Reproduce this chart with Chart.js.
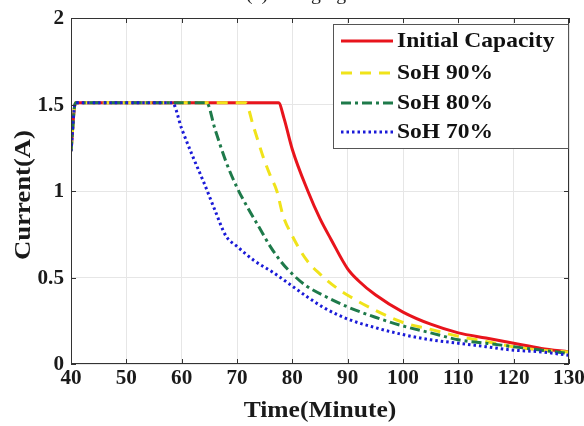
<!DOCTYPE html>
<html><head><meta charset="utf-8">
<script src="https://cdn.jsdelivr.net/npm/chart.js@4/dist/chart.umd.min.js"></script>
<style>html,body{margin:0;padding:0;background:#fff;overflow:hidden}#wrap{position:relative;width:584px;height:426px}</style>
</head><body><div id="wrap"><canvas id="c" width="584" height="426"></canvas></div>
<script>
const chartTitle = "(a) Charging current";
const xTitle = "Time(Minute)";
const yTitle = "Current(A)";
const seriesLabels = ["Initial Capacity", "SoH 90%", "SoH 80%", "SoH 70%"];
const xTicks = [40, 50, 60, 70, 80, 90, 100, 110, 120, 130];
const yTicks = [0, 0.5, 1, 1.5, 2];
const yTickLabels = ["0", "0.5", "1", "1.5", "2"];

const timeInitial = [40, 40.8, 77.5, 78.5, 80, 82.8, 85, 87, 90, 92, 95, 100, 105, 110, 115, 120, 125, 130];
const currentInitial = [1.23, 1.51, 1.51, 1.42, 1.24, 1.0, 0.84, 0.72, 0.55, 0.48, 0.40, 0.30, 0.23, 0.18, 0.15, 0.12, 0.09, 0.07];

const time90 = [40, 40.8, 71.5, 73, 74.7, 76, 77.2, 78.3, 80, 82.6, 85, 88, 90.4, 95, 100, 105, 110, 115, 120, 125, 130];
const current90 = [1.23, 1.51, 1.51, 1.37, 1.2, 1.09, 1.0, 0.86, 0.74, 0.60, 0.52, 0.44, 0.39, 0.31, 0.24, 0.20, 0.16, 0.13, 0.10, 0.08, 0.07];

const time80 = [40, 40.8, 64.5, 66, 68, 70, 72, 74, 76, 78, 80, 82.6, 86, 90, 95, 100, 105, 110, 115, 120, 125, 130];
const current80 = [1.23, 1.51, 1.51, 1.36, 1.17, 1.02, 0.90, 0.79, 0.68, 0.59, 0.52, 0.45, 0.39, 0.33, 0.27, 0.22, 0.18, 0.14, 0.12, 0.10, 0.08, 0.06];

const time70 = [40, 40.8, 58.3, 60, 62, 64, 66, 68, 70, 73, 76.5, 80, 82.6, 86, 90, 95, 100, 105, 110, 115, 120, 125, 130];
const current70 = [1.23, 1.51, 1.51, 1.36, 1.20, 1.05, 0.89, 0.74, 0.68, 0.60, 0.53, 0.45, 0.39, 0.32, 0.26, 0.21, 0.17, 0.14, 0.12, 0.10, 0.08, 0.07, 0.05];

function pts(xs, ys) { return xs.map((x, i) => ({x: x, y: ys[i]})); }

const FONT = "'Liberation Serif','Times New Roman',serif";
const STRETCH = 1.11;

const styles = [
  {color: '#e8141c', dash: [], order: 4},
  {color: '#f0e31a', dash: [11, 8], order: 3},
  {color: '#1e7a4a', dash: [10, 4, 3, 4], order: 2},
  {color: '#1a1ad8', dash: [2.5, 3], order: 1}
];
const seriesData = [pts(timeInitial, currentInitial), pts(time90, current90), pts(time80, current80), pts(time70, current70)];

const datasets = seriesLabels.map((lab, i) => ({
  label: lab,
  data: seriesData[i],
  borderColor: styles[i].color,
  backgroundColor: styles[i].color,
  borderDash: styles[i].dash,
  borderWidth: 3,
  pointRadius: 0,
  cubicInterpolationMode: 'monotone',
  fill: false,
  order: styles[i].order
}));

function txt(ctx, s, x, y, font, align, base, sx, rot) {
  ctx.save();
  ctx.translate(x, y);
  if (rot) ctx.rotate(rot);
  ctx.scale(sx, 1);
  ctx.font = font;
  ctx.textAlign = align;
  ctx.textBaseline = base;
  ctx.fillText(s, 0, 0);
  ctx.restore();
}

const framePlugin = {
  id: 'frame',
  afterDatasetsDraw(chart) {
    const ctx = chart.ctx, a = chart.chartArea;
    const xs = chart.scales.x, ys = chart.scales.y;
    ctx.save();
    ctx.strokeStyle = '#333';
    ctx.lineWidth = 1;
    ctx.setLineDash([]);
    ctx.strokeRect(a.left + 0.5, a.top + 0.5, a.right - a.left - 1, a.bottom - a.top - 1);
    ctx.beginPath();
    xTicks.forEach(t => {
      const px = Math.round(xs.getPixelForValue(t)) + 0.5;
      ctx.moveTo(px, a.bottom); ctx.lineTo(px, a.bottom - 5);
      ctx.moveTo(px, a.top); ctx.lineTo(px, a.top + 5);
    });
    yTicks.forEach(t => {
      const py = Math.round(ys.getPixelForValue(t)) + 0.5;
      ctx.moveTo(a.left, py); ctx.lineTo(a.left + 5, py);
      ctx.moveTo(a.right, py); ctx.lineTo(a.right - 5, py);
    });
    ctx.stroke();

    ctx.fillStyle = '#1a1a1a';
    const tickFont = "bold 20px " + FONT;
    xTicks.forEach(t => {
      txt(ctx, String(t), xs.getPixelForValue(t), a.bottom + 15, tickFont, 'center', 'middle', 1.06, 0);
    });
    yTicks.forEach((t, i) => {
      txt(ctx, yTickLabels[i], a.left - 7, ys.getPixelForValue(t) + 1, tickFont, 'right', 'middle', 1.06, 0);
    });
    const titleFont = "bold 23px " + FONT;
    txt(ctx, xTitle, (a.left + a.right) / 2, 417, titleFont, 'center', 'alphabetic', STRETCH, 0);
    txt(ctx, yTitle, 30, (a.top + a.bottom) / 2 + 4, "bold 23px " + FONT, 'center', 'alphabetic', 1.16, -Math.PI / 2);

    // legend box
    const lx = 333, ly = 24, lw = 235, lh = 124;
    ctx.fillStyle = '#fff';
    ctx.fillRect(lx, ly, lw, lh);
    ctx.strokeStyle = '#555';
    ctx.lineWidth = 1;
    ctx.strokeRect(lx + 0.5, ly + 0.5, lw, lh);
    const rows = [41, 73, 103, 132];
    chart.data.datasets.forEach((ds, i) => {
      ctx.beginPath();
      ctx.strokeStyle = ds.borderColor;
      ctx.lineWidth = 3;
      ctx.setLineDash(ds.borderDash);
      ctx.moveTo(341, rows[i]); ctx.lineTo(393, rows[i]);
      ctx.stroke();
      ctx.setLineDash([]);
      ctx.fillStyle = '#111';
      txt(ctx, ds.label, 397, rows[i] + 1, "bold 21px " + FONT, 'left', 'middle', 1.12, 0);
    });

    // title, cut off by the top edge
    ctx.fillStyle = '#222';
    txt(ctx, chartTitle, 246, 0, "18px " + FONT, 'left', 'alphabetic', 1.1, 0);
    ctx.restore();
  }
};

new Chart(document.getElementById('c'), {
  type: 'line',
  data: {datasets: datasets},
  options: {
    responsive: false,
    animation: false,
    devicePixelRatio: 1,
    layout: {padding: {top: 18, right: 15, left: 0, bottom: 0}},
    plugins: {legend: {display: false}, tooltip: {enabled: false}, title: {display: false}},
    scales: {
      x: {
        type: 'linear', min: 40, max: 130,
        afterBuildTicks: s => { s.ticks = xTicks.map(v => ({value: v})); },
        afterFit: s => { s.height = 62; },
        ticks: {display: false},
        grid: {color: '#e6e6e6', drawTicks: false},
        border: {display: false}
      },
      y: {
        type: 'linear', min: 0, max: 2,
        afterBuildTicks: s => { s.ticks = yTicks.map(v => ({value: v})); },
        afterFit: s => { s.width = 71; },
        ticks: {display: false},
        grid: {color: '#e6e6e6', drawTicks: false},
        border: {display: false}
      }
    }
  },
  plugins: [framePlugin]
});
</script></body></html>
